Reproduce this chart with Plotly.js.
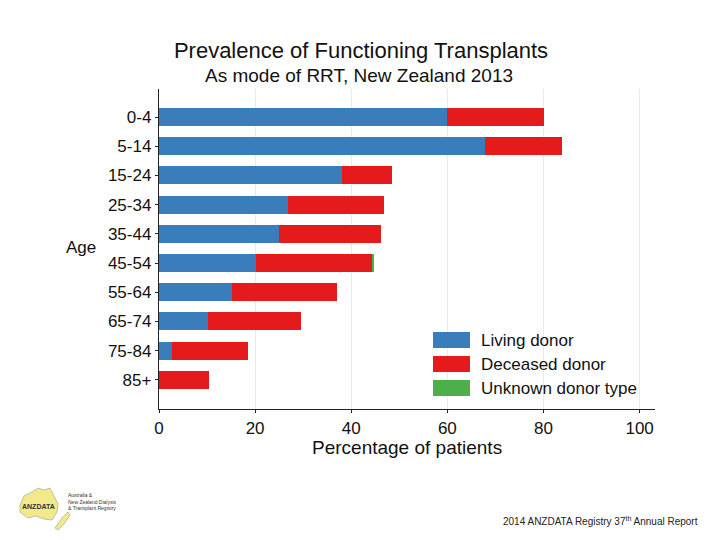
<!DOCTYPE html>
<html>
<head>
<meta charset="utf-8">
<script src="https://cdn.plot.ly/plotly-3.0.1.min.js"></script>
<style>html,body{margin:0;padding:0;background:#fff;}#chart{width:720px;height:540px;}</style>
</head>
<body>
<div id="chart"></div>
<script>
const ageGroups = ["0-4","5-14","15-24","25-34","35-44","45-54","55-64","65-74","75-84","85+"];
const livingDonor   = [60.0, 67.8, 38.0, 26.8, 25.0, 20.2, 15.2, 10.2, 2.7, 0];
const deceasedDonor = [20.0, 16.0, 10.4, 20.0, 21.2, 24.1, 21.8, 19.3, 15.8, 10.4];
const unknownDonor  = [0, 0, 0, 0, 0, 0.4, 0, 0, 0, 0];
const seriesNames = ["Living donor","Deceased donor","Unknown donor type"];
const seriesColors = ["#3a7dbb","#e41a1c","#4daf4a"];
const xTicks = [0,20,40,60,80,100];

const font = "Liberation Sans, Arial, sans-serif";
const seriesValues = [livingDonor, deceasedDonor, unknownDonor];
const traces = seriesValues.map((vals, i) => ({
  type: "bar", orientation: "h",
  y: ageGroups, x: vals, name: seriesNames[i],
  marker: {color: seriesColors[i], line: {width: 0}},
  showlegend: false, hoverinfo: "x+y+name"
}));

// custom legend (wide colour boxes)
const shapes = [], annotations = [];
seriesNames.forEach((n, i) => {
  const y0 = 332 + i * 24;
  shapes.push({type: "rect", xref: "paper", yref: "paper",
    x0: (433-159)/496, x1: (470-159)/496,
    y0: (409 - (y0+16))/320, y1: (409 - y0)/320,
    fillcolor: seriesColors[i], line: {width: 0}});
  annotations.push({xref: "paper", yref: "paper", x: (479-159)/496, y: (409 - (y0+8))/320,
    xanchor: "left", yanchor: "middle", showarrow: false, text: n,
    font: {family: font, size: 17, color: "#111"}});
});

annotations.push({xref: "paper", yref: "paper", x: (359-159)/496, y: (409-75)/320,
  xanchor: "center", yanchor: "middle", showarrow: false,
  text: "As mode of RRT, New Zealand 2013", font: {family: font, size: 19, color: "#111"}});
annotations.push({xref: "paper", yref: "paper", x: (81-159)/496, y: (409-247)/320,
  xanchor: "center", yanchor: "middle", showarrow: false,
  text: "Age", font: {family: font, size: 17, color: "#111"}});
annotations.push({xref: "paper", yref: "paper", x: (407-159)/496, y: (409-447)/320,
  xanchor: "center", yanchor: "middle", showarrow: false,
  text: "Percentage of patients", font: {family: font, size: 19, color: "#111"}});
annotations.push({xref: "paper", yref: "paper", x: (700-159)/496, y: (409-521)/320,
  xanchor: "right", yanchor: "middle", showarrow: false,
  text: "2014 ANZDATA Registry 37<sup>th</sup> Annual Report", font: {family: font, size: 10, color: "#222"}});
annotations.push({xref: "paper", yref: "paper", x: (66-159)/496, y: (409-501)/320,
  xanchor: "left", yanchor: "middle", showarrow: false, align: "left",
  text: "Australia &<br>New Zealand Dialysis<br>& Transplant Registry", font: {family: font, size: 5, color: "#333"}});
annotations.push({xref: "paper", yref: "paper", x: (38-159)/496, y: (409-506)/320,
  xanchor: "center", yanchor: "middle", showarrow: false,
  text: "<b>ANZDATA</b>", font: {family: font, size: 7, color: "#333"}});
// logo blob
shapes.push({type: "path", xref: "paper", yref: "paper",
  path: (function(){
    const pts = [[20,505],[24,496],[32,492],[38,488],[44,490],[50,488],[54,496],[58,504],[57,512],[52,520],[44,519],[36,516],[28,518],[20,512]];
    return "M" + pts.map(p => ((p[0]-159)/496) + "," + ((409-p[1])/320)).join("L") + "Z";
  })(),
  fillcolor: "#f2ea8a", line: {color: "#888", width: 0.5}});
shapes.push({type: "path", xref: "paper", yref: "paper",
  path: (function(){
    const pts = [[62,518],[68,512],[70,515],[64,524],[58,530],[55,528]];
    return "M" + pts.map(p => ((p[0]-159)/496) + "," + ((409-p[1])/320)).join("L") + "Z";
  })(),
  fillcolor: "#f2ea8a", line: {color: "#888", width: 0.5}});

const layout = {
  width: 720, height: 540,
  margin: {l: 159, r: 65, t: 89, b: 131},
  paper_bgcolor: "#fff", plot_bgcolor: "#fff",
  barmode: "stack", bargap: 0.38,
  title: {text: "Prevalence of Functioning Transplants", x: (361)/720, xanchor: "center",
    y: 1 - 50/540, yanchor: "middle", font: {family: font, size: 22, color: "#111"}},
  xaxis: {range: [0, 103.2], tickvals: xTicks, ticktext: xTicks.map(String),
    showgrid: true, gridcolor: "#e6ebf1", gridwidth: 1, zeroline: false,
    showline: true, linecolor: "#222", linewidth: 1.2,
    ticks: "outside", ticklen: 3, tickcolor: "#222",
    tickfont: {family: font, size: 17, color: "#111"}},
  yaxis: {type: "category", range: [10.0, -0.96], showgrid: false, zeroline: false,
    showline: true, linecolor: "#222", linewidth: 1.2,
    ticks: "outside", ticklen: 3, tickcolor: "#222",
    tickfont: {family: font, size: 17, color: "#111"}},
  shapes: shapes, annotations: annotations, showlegend: false
};

Plotly.newPlot("chart", traces, layout, {displayModeBar: false, staticPlot: true});
</script>
</body>
</html>
